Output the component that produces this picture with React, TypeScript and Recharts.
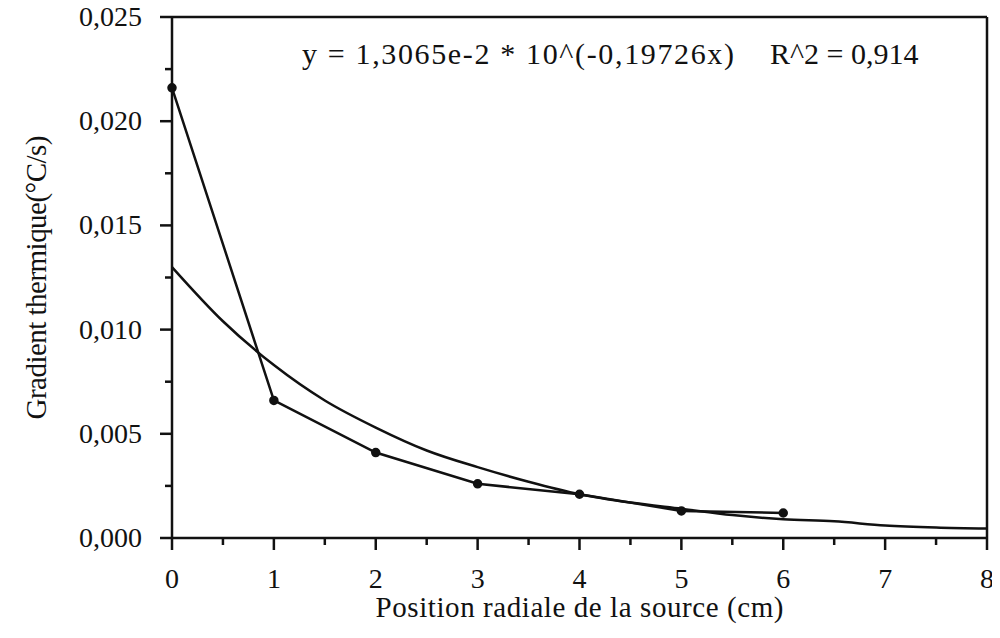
import React from 'react';
import { ComposedChart, Line, XAxis, YAxis, ReferenceLine } from 'recharts';

const measuredX = [0, 1, 2, 3, 4, 5, 6];
const measuredY = [0.0216, 0.0066, 0.0041, 0.0026, 0.0021, 0.0013, 0.0012];

// exponential fit curve, read at half-cm steps
const fitX = [0, 0.5, 1, 1.5, 2, 2.5, 3, 3.5, 4, 4.5, 5, 5.5, 6, 6.5, 7, 7.5, 8];
const fitY = [0.013, 0.0104, 0.0083, 0.0066, 0.0053, 0.0042, 0.0034, 0.0027, 0.0021, 0.0017, 0.0014, 0.0011, 0.0009, 0.0008, 0.0006, 0.0005, 0.00045];

const xTicks = [0, 0.5, 1, 1.5, 2, 2.5, 3, 3.5, 4, 4.5, 5, 5.5, 6, 6.5, 7, 7.5, 8];
const yTicks = [0, 0.0025, 0.005, 0.0075, 0.01, 0.0125, 0.015, 0.0175, 0.02, 0.0225, 0.025];

const equation = 'y = 1,3065e-2 * 10^(-0,19726x)';
const rSquared = 'R^2 = 0,914';

const INK = '#111';
const SERIF = "'Liberation Serif', 'Times New Roman', Times, serif";

const measured = measuredX.map((x, i) => ({ x, y: measuredY[i] }));
const fit = fitX.map((x, i) => ({ x, y: fitY[i] }));

const XTick = ({ x, y, payload }: any) => {
  const major = Number.isInteger(payload.value);
  return (
    <g>
      <line x1={x} y1={y} x2={x} y2={y + (major ? 12 : 7)} stroke={INK} strokeWidth={2.5} />
      {major && (
        <text x={x} y={y + 50} textAnchor="middle" fontFamily={SERIF} fontSize={28} fill={INK}>
          {payload.value}
        </text>
      )}
    </g>
  );
};

const YTick = ({ x, y, payload }: any) => {
  const major = Math.round(payload.value * 10000) % 50 === 0;
  return (
    <g>
      <line x1={x - (major ? 12 : 7)} y1={y} x2={x} y2={y} stroke={INK} strokeWidth={2.5} />
      {major && (
        <text x={x - 30} y={y + 9} textAnchor="end" fontFamily={SERIF} fontSize={28} fill={INK}>
          {payload.value.toFixed(3).replace('.', ',')}
        </text>
      )}
    </g>
  );
};

export default function App() {
  return (
    <div style={{ background: '#fff', fontFamily: SERIF }}>
      <ComposedChart width={992} height={622} margin={{ top: 9, right: 13, left: 0, bottom: 0 }}>
        <XAxis
          type="number"
          dataKey="x"
          domain={[0, 8]}
          ticks={xTicks}
          interval={0}
          tickSize={0}
          tickMargin={0}
          tick={<XTick />}
          height={92}
          axisLine={{ stroke: INK, strokeWidth: 2.5 }}
          allowDuplicatedCategory={false}
          label={{
            content: ({ viewBox }: any) => (
              <text x={viewBox.x + viewBox.width / 2} y={viewBox.y + 79} textAnchor="middle" textLength={408} lengthAdjust="spacing" fontFamily={SERIF} fontSize={29} fill={INK}>
                Position radiale de la source (cm)
              </text>
            ),
          }}
        />
        <YAxis
          type="number"
          domain={[0, 0.025]}
          ticks={yTicks}
          interval={0}
          tickSize={0}
          tickMargin={0}
          tick={<YTick />}
          width={164}
          axisLine={{ stroke: INK, strokeWidth: 2.5 }}
          label={{
            content: ({ viewBox }: any) => {
              const cy = viewBox.y + viewBox.height / 2;
              return (
                <text x={38} y={cy} transform={`rotate(-90 38 ${cy})`} textAnchor="middle" textLength={284} lengthAdjust="spacing" fontFamily={SERIF} fontSize={29} fill={INK}>
                  Gradient thermique(°C/s)
                </text>
              );
            },
          }}
        />
        <ReferenceLine
          y={0.025}
          stroke={INK}
          strokeWidth={2.5}
          label={{
            content: ({ viewBox }: any) => (
              <g fill={INK} fontFamily={SERIF} fontSize={30}>
                <text x={viewBox.x + 130} y={viewBox.y + 47} textLength={432} lengthAdjust="spacing">{equation}</text>
                <text x={viewBox.x + 598} y={viewBox.y + 47}>{rSquared}</text>
              </g>
            ),
          }}
        />
        <ReferenceLine x={8} stroke={INK} strokeWidth={2.5} />
        <Line
          data={fit}
          dataKey="y"
          type="monotone"
          stroke={INK}
          strokeWidth={2.5}
          dot={false}
          isAnimationActive={false}
        />
        <Line
          data={measured}
          dataKey="y"
          type="linear"
          stroke={INK}
          strokeWidth={2.5}
          dot={{ r: 3.5, fill: INK, stroke: INK }}
          isAnimationActive={false}
        />
      </ComposedChart>
    </div>
  );
}
